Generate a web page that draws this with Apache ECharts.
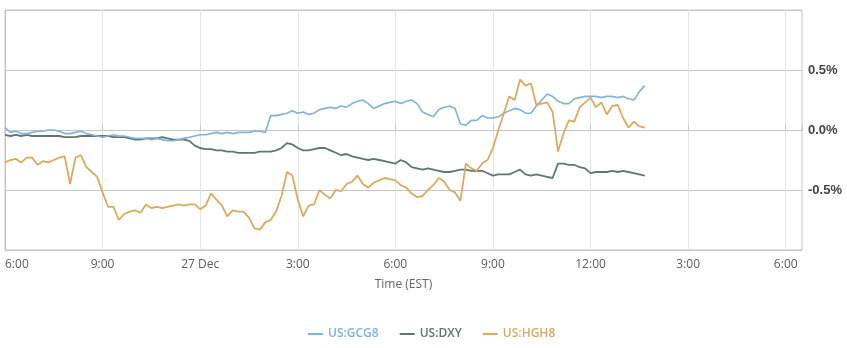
<!DOCTYPE html>
<html>
<head>
<meta charset="utf-8">
<script src="https://cdn.jsdelivr.net/npm/echarts@6/dist/echarts.min.js"></script>
<style>
  html, body { margin: 0; padding: 0; background: #fff; }
  #chart { width: 847px; height: 348px; }
</style>
</head>
<body>
<div id="chart"></div>
<script>
// Percent change since 26 Dec 18:00 (EST), one reading every 10 minutes
const startHour = 0;          // hours after 26 Dec 18:00
const stepHours = 10 / 60;

const tickLabels = ['6:00', '9:00', '27 Dec', '3:00', '6:00', '9:00', '12:00', '3:00', '6:00'];
const seriesNames = ['US:GCG8', 'US:DXY', 'US:HGH8'];
const seriesColors = ['#83b1dc', '#5e7676', '#d9aa60'];

const gcg8 = [
  0.02, -0.02, -0.01, -0.03, -0.03, -0.02, -0.01, -0.01, 0.00, 0.00,
  -0.01, -0.03, -0.03, -0.02, -0.01, -0.03, -0.04, -0.05, -0.06, -0.05,
  -0.04, -0.05, -0.05, -0.06, -0.07, -0.07, -0.07, -0.08, -0.07, -0.08,
  -0.09, -0.09, -0.08, -0.07, -0.06, -0.05, -0.04, -0.04, -0.03, -0.02,
  -0.03, -0.02, -0.03, -0.02, -0.02, -0.02, -0.01, -0.01, -0.02, 0.12,
  0.12, 0.13, 0.14, 0.16, 0.14, 0.15, 0.13, 0.14, 0.17, 0.18,
  0.19, 0.18, 0.20, 0.19, 0.22, 0.24, 0.25, 0.22, 0.18, 0.20,
  0.22, 0.23, 0.24, 0.22, 0.24, 0.25, 0.22, 0.15, 0.13, 0.11,
  0.17, 0.19, 0.20, 0.18, 0.05, 0.04, 0.08, 0.08, 0.12, 0.10,
  0.10, 0.11, 0.14, 0.16, 0.18, 0.17, 0.14, 0.14, 0.20, 0.25,
  0.30, 0.28, 0.24, 0.22, 0.22, 0.26, 0.27, 0.28, 0.28, 0.28,
  0.27, 0.28, 0.28, 0.27, 0.28, 0.26, 0.25, 0.32, 0.37
];

const dxy = [
  -0.04, -0.05, -0.04, -0.05, -0.04, -0.05, -0.05, -0.05, -0.05, -0.05,
  -0.05, -0.06, -0.06, -0.06, -0.05, -0.05, -0.05, -0.05, -0.05, -0.05,
  -0.06, -0.06, -0.06, -0.07, -0.08, -0.08, -0.07, -0.07, -0.07, -0.06,
  -0.07, -0.08, -0.08, -0.08, -0.09, -0.13, -0.15, -0.16, -0.16, -0.17,
  -0.17, -0.18, -0.18, -0.19, -0.19, -0.19, -0.19, -0.18, -0.18, -0.18,
  -0.17, -0.15, -0.11, -0.12, -0.15, -0.17, -0.17, -0.16, -0.15, -0.15,
  -0.17, -0.19, -0.21, -0.20, -0.22, -0.23, -0.24, -0.25, -0.24, -0.25,
  -0.26, -0.27, -0.28, -0.25, -0.27, -0.31, -0.32, -0.33, -0.32, -0.33,
  -0.34, -0.35, -0.35, -0.34, -0.33, -0.33, -0.34, -0.34, -0.34, -0.36,
  -0.38, -0.37, -0.37, -0.37, -0.35, -0.33, -0.37, -0.38, -0.37, -0.38,
  -0.39, -0.40, -0.28, -0.28, -0.29, -0.29, -0.31, -0.32, -0.36, -0.35,
  -0.35, -0.35, -0.34, -0.35, -0.34, -0.35, -0.36, -0.37, -0.38
];

const hgh8 = [
  -0.27, -0.25, -0.24, -0.27, -0.23, -0.23, -0.29, -0.26, -0.27, -0.25,
  -0.23, -0.22, -0.45, -0.23, -0.21, -0.31, -0.35, -0.39, -0.52, -0.64,
  -0.64, -0.75, -0.70, -0.68, -0.67, -0.69, -0.62, -0.65, -0.64, -0.65,
  -0.64, -0.63, -0.62, -0.63, -0.62, -0.62, -0.66, -0.63, -0.53, -0.58,
  -0.63, -0.72, -0.67, -0.68, -0.68, -0.73, -0.82, -0.83, -0.77, -0.75,
  -0.68, -0.55, -0.35, -0.38, -0.58, -0.72, -0.63, -0.62, -0.50, -0.54,
  -0.57, -0.50, -0.51, -0.45, -0.43, -0.38, -0.45, -0.48, -0.44, -0.42,
  -0.40, -0.41, -0.42, -0.46, -0.48, -0.53, -0.56, -0.55, -0.50, -0.46,
  -0.40, -0.43, -0.50, -0.52, -0.59, -0.28, -0.32, -0.34, -0.28, -0.25,
  -0.15, 0.00, 0.14, 0.28, 0.25, 0.42, 0.37, 0.39, 0.21, 0.22,
  0.23, 0.15, -0.18, -0.03, 0.08, 0.07, 0.19, 0.23, 0.27, 0.19,
  0.23, 0.13, 0.20, 0.21, 0.10, 0.02, 0.07, 0.03, 0.02
];

function withTime(values) {
  return values.map((v, i) => [startHour + i * stepHours, v]);
}

const chart = echarts.init(document.getElementById('chart'), null, { renderer: 'canvas' });

const tickFont = '"Open Sans", "Liberation Sans", sans-serif';

chart.setOption({
  animation: false,
  backgroundColor: '#ffffff',
  grid: {
    left: 5, right: 45, top: 10, bottom: 98,
    show: true, borderColor: '#c6c6c6', borderWidth: 1
  },
  xAxis: {
    type: 'value',
    min: 0, max: 24.5, interval: 3,
    name: 'Time (EST)',
    nameLocation: 'middle',
    nameGap: 29,
    nameTextStyle: { color: '#666', fontSize: 12, fontFamily: tickFont },
    axisLine: { show: true, lineStyle: { color: '#c6c6c6', width: 1 } },
    axisTick: { show: true, inside: true, length: 5, lineStyle: { color: '#c6c6c6' } },
    axisLabel: {
      margin: 9,
      color: '#5c5c5c',
      fontSize: 12,
      fontFamily: tickFont,
      alignMinLabel: 'left',
      formatter: v => {
        const k = Math.round(v / 3);
        return Math.abs(v - k * 3) < 1e-6 && tickLabels[k] !== undefined ? tickLabels[k] : '';
      }
    },
    splitLine: { show: true, lineStyle: { color: '#e4e4e4', width: 1 } }
  },
  yAxis: {
    type: 'value',
    position: 'right',
    min: -1, max: 1, interval: 0.5,
    axisLine: { show: true, lineStyle: { color: '#c6c6c6' } },
    axisTick: { show: false },
    axisLabel: {
      margin: 6,
      color: '#444',
      fontSize: 13,
      fontWeight: 'bold',
      fontFamily: '"Liberation Sans", Arial, sans-serif',
      formatter: v => (Math.abs(v) > 0.75 ? '' : v.toFixed(1) + '%')
    },
    splitLine: { show: true, lineStyle: { color: '#c6c6c6', width: 1 } }
  },
  legend: {
    left: 303,
    top: 323,
    icon: 'rect',
    itemWidth: 15,
    itemHeight: 2,
    itemGap: 21,
    textStyle: { fontSize: 12, fontWeight: 600, fontFamily: tickFont },
    data: seriesNames.map((n, i) => ({ name: n, textStyle: { color: seriesColors[i] } }))
  },
  series: [gcg8, dxy, hgh8].map((vals, i) => ({
    name: seriesNames[i],
    type: 'line',
    data: withTime(vals),
    showSymbol: false,
    symbol: 'none',
    color: seriesColors[i],
    lineStyle: { width: i === 0 ? 1.6 : 1.8, color: seriesColors[i] },
    z: [3, 2, 4][i]
  }))
});
</script>
</body>
</html>
